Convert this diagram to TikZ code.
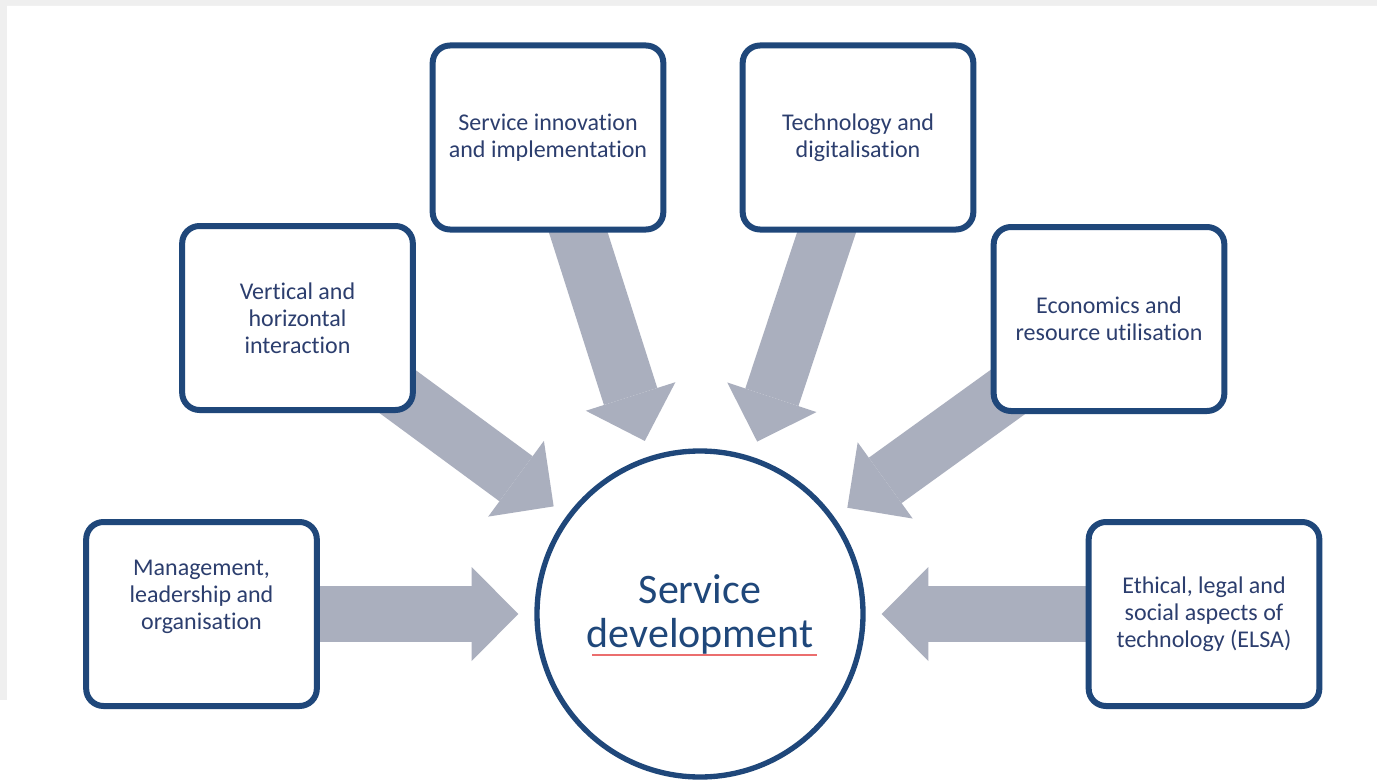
\documentclass[tikz,border=0pt]{standalone}
\usepackage{fontspec}
\setmainfont{Carlito}[Ligatures=NoCommon]
\usepackage{xcolor}
\definecolor{boxNavy}{RGB}{31,71,122}
\definecolor{textNavy}{RGB}{44,62,110}
\definecolor{arrowGray}{RGB}{170,175,190}
\definecolor{frameGray}{RGB}{239,239,239}
\definecolor{spellRed}{RGB}{235,110,110}
\usepackage{tikz}
\usetikzlibrary{arrows.meta, calc, backgrounds}

\begin{document}
\begin{tikzpicture}[x=0.75pt, y=-0.75pt,
	topictext/.style={align=center, text=textNavy, font=\fontsize{18}{20.25}\selectfont},
	topic/.style={topictext, draw=boxNavy, line width=4.5pt, rounded corners=13pt, fill=white,
		minimum width=173pt, minimum height=138pt, inner sep=0pt},
	flow/.style={arrowGray, line width=42pt, shorten >=12pt,
		-{Triangle[length=35pt, width=70.5pt, line width=0pt]}}]
	\useasboundingbox (0,0) rectangle (1377,781);

	% centre circle
	\node[circle, draw=boxNavy, line width=4pt, fill=white, minimum size=244.5pt, inner sep=0pt,
		align=center, text=boxNavy, font=\fontsize{31.5}{33}\selectfont] (sd) at (700,614) {Service\\development};
	\draw[spellRed, line width=0.8pt] ($(sd.center)+(-108,41)$) -- ++(225,0);

	% topic boxes
	\node[topic] (sii) at (548,137.5) {Service innovation\\and implementation};
	\node[topic] (tech) at (858,137.5) {Technology and\\digitalisation};
	\node[topic] (vert) at (297.5,318) {Vertical and\\horizontal\\interaction};
	\node[topic] (econ) at (1109,319) {Economics and\\resource utilisation};
	\node[topic] (mgmt) at (201.5,614) {};
	\node[topictext] at ($(mgmt.center)+(0,-17)$) {Management,\\leadership and\\organisation};
	\node[topic] (elsa) at (1204,614) {Ethical, legal and\\social aspects of\\technology (ELSA)};

	\begin{pgfonlayer}{background}
		\fill[frameGray] (0,0) rectangle (1377,781);
		\fill[white] (7,6) -- (1377,6) -- (1377,781) -- (0,781) -- (0,700) -- (7,700) -- cycle;
		\foreach \src in {mgmt, vert, sii, tech, econ, elsa}
			\draw[flow] (\src.center) -- (sd);
	\end{pgfonlayer}
\end{tikzpicture}
\end{document}
